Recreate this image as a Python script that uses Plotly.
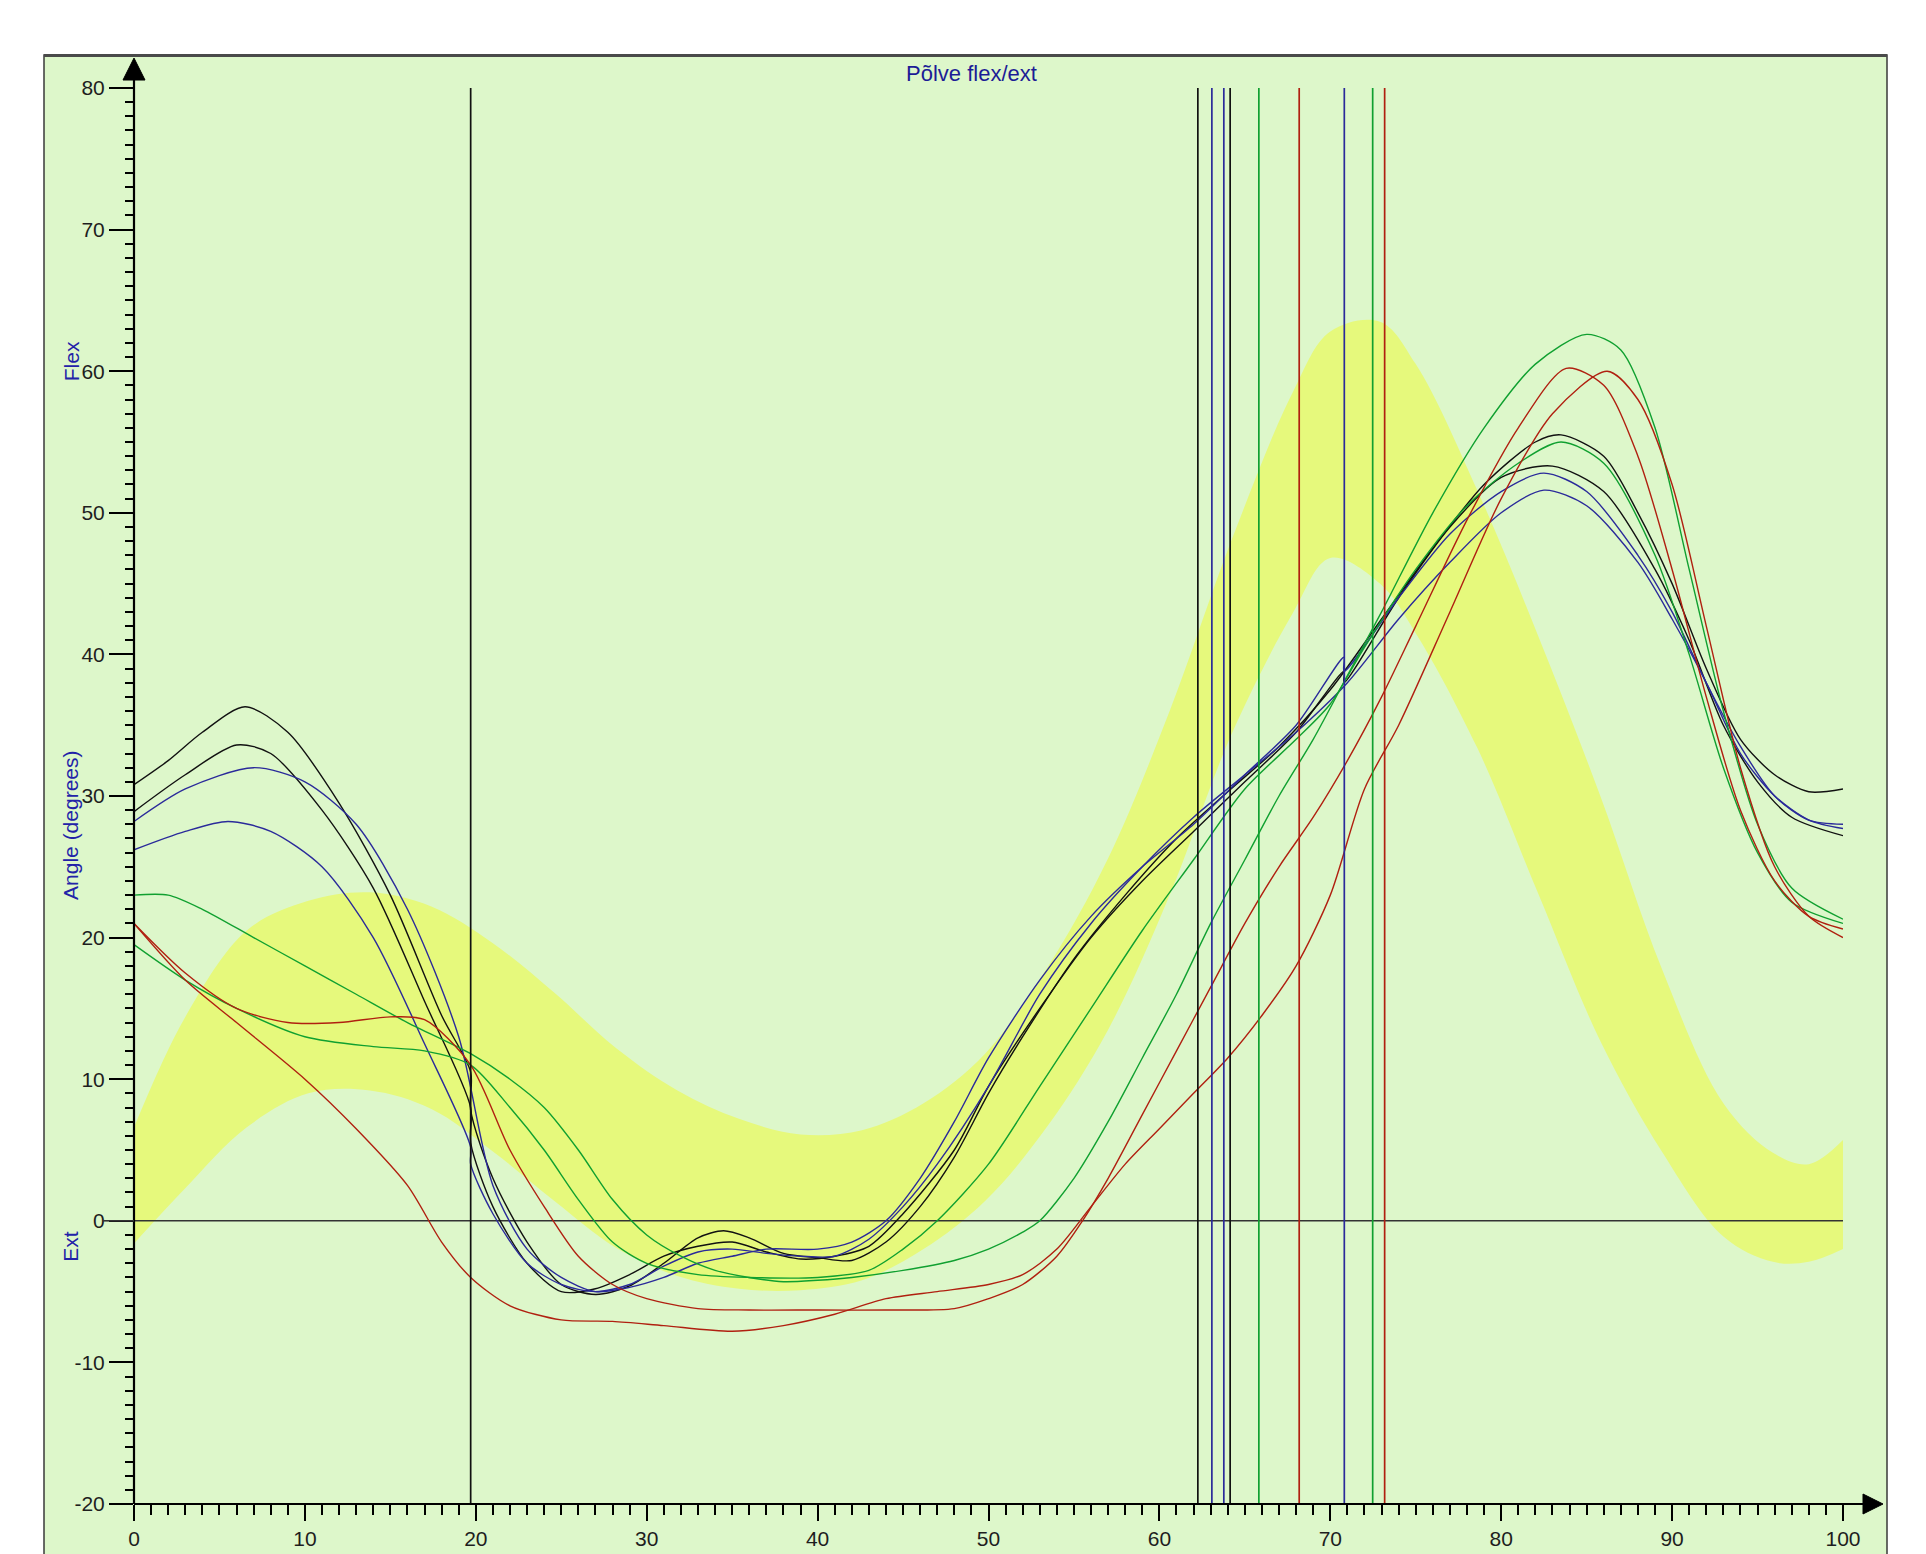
import plotly.graph_objects as go

# ---------------- data ----------------
band_x = [0, 3, 6.6, 10.2, 13.8, 17.4, 21, 24.6, 28.2, 31.8, 35.4, 39, 42.6, 46.2, 49.8,
          53.4, 57, 60.6, 64.2, 67.8, 70, 72.9, 75, 78.6, 82.2, 85.8, 89.4, 93, 95.9, 98, 100]
band_upper = [6.6, 14.4, 20.5, 22.6, 23.2, 22.2, 19.6, 16.1, 12.2, 9.2, 7.2, 6.1, 6.4, 8.3, 11.8,
              17.8, 25.6, 36, 48, 58.5, 62.8, 63.5, 60.5, 51.6, 41.2, 30, 17.8, 8.3, 4.8, 4, 5.7]
band_lower = [-1.6, 2.3, 6.6, 9, 9.2, 7.9, 4.9, 1.4, -1.9, -3.9, -4.8, -4.9, -4.2, -2, 1.4,
              6.6, 13.5, 23, 34.3, 42.9, 46.8, 45, 41.5, 33.4, 23, 12.7, 4.9, -1.1, -2.9, -2.9, -2]

k1_x = [0, 2, 4, 6.5, 9, 12, 15, 18, 19.7, 19.7, 21, 23, 25, 27, 29, 31, 33, 34.5, 36, 38, 40, 42, 44,
        46, 48, 50, 52, 55, 58, 61, 64, 67, 70, 73, 76, 79, 82, 83.5, 86, 88, 90, 92, 94, 96, 98, 100]
k1_y = [30.8, 32.5, 34.5, 36.3, 34.5, 29.5, 23, 14.5, 10.5, 7.8, 3, -1.5, -4.5, -5.2, -4.6, -3, -1.2,
        -0.7, -1.2, -2.3, -2.6, -2.8, -1.5, 1, 4.5, 9, 13, 18.5, 23, 27, 30.3, 33.5, 37.5, 42.5, 47.5,
        52, 55, 55.5, 54, 50, 45, 39, 34, 31.5, 30.3, 30.5]

k2_x = [0, 3, 6, 8, 11, 14, 17, 19.7, 19.7, 21, 23, 25, 27, 29, 31, 33, 35, 37, 39, 41, 43, 45, 48,
        50, 53, 56, 59, 62, 65, 68, 70.8, 70.8, 74, 77, 80, 83, 86, 89, 91, 93, 95, 97, 100]
k2_y = [28.9, 31.5, 33.6, 33, 29, 23.5, 15.5, 8, 5.5, 1, -3, -5, -4.8, -3.8, -2.5, -1.8, -1.5, -2.2,
        -2.7, -2.5, -1.8, 0.5, 5, 9.5, 15, 20, 24, 27.5, 31, 34.5, 38.8, 38, 44, 49, 52.5, 53.3, 51.5,
        46, 41, 35, 31, 28.5, 27.2]

b1_x = [0, 3, 7, 10, 13, 16, 19, 21, 23, 25, 27, 29, 31, 33, 35, 37, 40, 42, 44, 46, 48, 50, 53, 56,
        59, 62, 65, 68, 70.8, 70.8, 74, 77, 80, 82.5, 85, 88, 90, 92, 94, 96, 98, 100]
b1_y = [28.2, 30.5, 32, 31, 28, 22, 13, 2.5, -2, -4, -5, -4.7, -4, -3, -2.5, -2, -2, -1.5, 0, 3, 7,
        11.5, 17, 21.5, 25, 28, 31.5, 35, 39.8, 38.8, 44, 48.5, 51.5, 52.8, 51.5, 47, 43, 38, 33.5, 30,
        28.3, 28]

b2_x = [0, 3, 5.5, 8, 11, 14, 17, 19.7, 19.7, 21, 23, 25, 27, 29, 31, 33, 35, 37, 39, 41, 43, 45, 47,
        50, 53, 56, 59, 62, 65, 68, 71, 74, 77, 80, 82.5, 85, 88, 90, 92, 94, 96, 98, 100]
b2_y = [26.2, 27.5, 28.2, 27.5, 25, 20, 12.5, 5.2, 4, 0.5, -3, -4.5, -5, -4.5, -3.2, -2.2, -2, -2.3,
        -2.5, -2.5, -1.3, 1, 4, 9.5, 16, 21, 25, 28.5, 31.5, 34.5, 38, 42.5, 46.5, 50, 51.6, 50.5, 46.5,
        42.5, 38, 33, 30, 28.3, 27.7]

g1_x = [0, 2, 4, 7, 10, 13, 16, 19.7, 22, 24, 26, 28, 30, 32, 34, 36, 38, 40, 42, 45, 48, 50, 52, 53,
        55, 57, 59, 61, 63, 65, 67, 69, 71, 73, 76, 79, 82, 85, 87, 89, 91, 93, 95, 97, 100]
g1_y = [23, 23, 22, 20, 18, 16, 14, 11.8, 10, 8, 5, 1.5, -1, -2.5, -3.5, -4, -4.3, -4.2, -4, -3.5,
        -2.8, -2, -0.8, 0, 3, 7, 11.5, 16, 21, 25.5, 30, 34, 38.5, 43, 50, 56, 60.5, 62.6, 61.5, 56,
        46, 36, 28, 23.5, 21.3]

g2_x = [0, 3, 6, 10, 14, 17, 19.7, 22, 24, 26, 28, 30, 33, 36, 40, 43, 45, 47, 50, 53, 56, 59, 62,
        65, 68, 70, 72, 75, 78, 81, 83.5, 86, 89, 91, 93, 95, 97, 100]
g2_y = [19.5, 17, 15, 13, 12.3, 12, 11, 8, 5, 1.5, -1.5, -3, -3.8, -4, -4, -3.5, -2, 0, 4, 9.5, 15,
        20.5, 25.5, 30.5, 34, 36.5, 40.5, 46, 50.5, 53.5, 55, 53.5, 47, 40, 32, 26, 22.5, 21]

r1_x = [0, 3, 6, 9, 12, 15, 17, 19.7, 22, 24, 26, 28, 30, 33, 36, 40, 44, 48, 50, 52, 54, 55.5, 57,
        59, 61, 63, 65, 67, 69, 71, 73, 75, 78, 81, 83.8, 86, 88, 90, 92, 94, 96, 98, 100]
r1_y = [21, 17.5, 15, 14, 14, 14.4, 14.2, 11, 5, 1, -2.5, -4.5, -5.5, -6.2, -6.3, -6.3, -6.3, -6.2,
        -5.5, -4.5, -2.5, 0, 3, 7.5, 12, 16.5, 21, 25, 28.5, 32.5, 37, 42, 49.5, 56, 60.2, 59, 54,
        46, 37, 29, 24, 21.5, 20.6]

r2_x = [0, 3, 6, 10, 13, 16, 18, 19.7, 22, 25, 28, 31, 35, 38, 41, 44, 47, 50, 52, 54, 56, 58, 60,
        62, 64, 66, 68, 70, 72, 74, 77, 80, 83, 86.2, 88, 90, 92, 94, 96, 98, 100]
r2_y = [21, 17, 14, 10, 6.5, 2.5, -1.5, -4, -6, -7, -7.1, -7.4, -7.8, -7.4, -6.6, -5.5, -5, -4.5,
        -3.8, -2, 1, 4, 6.5, 9, 11.5, 14.5, 18, 23, 30.5, 35, 43, 51, 57, 60, 58, 52, 42, 32, 25,
        21.5, 20]

event_x = [19.7, 62.25, 63.07, 63.77, 64.14, 65.82, 68.18, 70.82, 72.48, 73.18]
event_color = ["#111111", "#111111", "#2a2a9a", "#2a2a9a", "#111111", "#10a030", "#b02010",
               "#2a2a9a", "#10a030", "#b02010"]

x_range = [0, 100]
y_range = [-20, 80]
x_tickvals = [0, 10, 20, 30, 40, 50, 60, 70, 80, 90, 100]
x_ticktext = ["0", "10", "20", "30", "40", "50", "60", "70", "80", "90", "100"]
y_tickvals = [-20, -10, 0, 10, 20, 30, 40, 50, 60, 70, 80]
y_ticktext = ["-20", "-10", "0", "10", "20", "30", "40", "50", "60", "70", "80"]
title_text = "Põlve flex/ext"
ylabel_flex = "Flex"
ylabel_mid = "Angle (degrees)"
ylabel_ext = "Ext"

# ---------------- geometry (page pixels; page body has an 8px margin) ----------------
OFF = 8
W, H = 1926, 1554
L, T = 134 - OFF, 88 - OFF
PW, PH = 1709, 1420
R, B = W - L - PW, H - T - PH


def px(xp):
    return (xp - OFF - L) / PW


def py(yp):
    return (H - B - (yp - OFF)) / PH


BG = "#ddf7ca"
BAND = "#e6f97c"
BLACK = "#111111"
BLUE = "#2a2a9a"
GREEN = "#10a030"
RED = "#b02010"

fig = go.Figure()

# normative band
fig.add_trace(go.Scatter(x=band_x, y=band_lower, mode="lines", line=dict(width=0, shape="spline"),
                         hoverinfo="skip", showlegend=False))
fig.add_trace(go.Scatter(x=band_x, y=band_upper, mode="lines", line=dict(width=0, shape="spline"),
                         fill="tonexty", fillcolor=BAND, hoverinfo="skip", showlegend=False))

# zero line
fig.add_trace(go.Scatter(x=x_range, y=[0, 0], mode="lines", line=dict(color="#333333", width=1.6),
                         hoverinfo="skip", showlegend=False))

curves = [
    (k1_x, k1_y, BLACK), (k2_x, k2_y, BLACK),
    (b1_x, b1_y, BLUE), (b2_x, b2_y, BLUE),
    (g1_x, g1_y, GREEN), (g2_x, g2_y, GREEN),
    (r1_x, r1_y, RED), (r2_x, r2_y, RED),
]
for cx, cy, col in curves:
    fig.add_trace(go.Scatter(x=cx, y=cy, mode="lines",
                             line=dict(color=col, width=1.4, shape="spline", smoothing=0.8),
                             showlegend=False))

# event lines
for ex, ec in zip(event_x, event_color):
    fig.add_trace(go.Scatter(x=[ex, ex], y=y_range, mode="lines",
                             line=dict(color=ec, width=1.7), hoverinfo="skip", showlegend=False))

y0p = (0 - y_range[0]) / (y_range[1] - y_range[0])
shapes = [
    # chart frame
    dict(type="rect", xref="paper", yref="paper", x0=px(44), x1=px(1887), y0=py(H + 20), y1=py(55),
         fillcolor=BG, line=dict(color="#3a3a3a", width=1.5), layer="below"),
    dict(type="line", xref="paper", yref="paper", x0=px(44), x1=px(1887), y0=py(55.5), y1=py(55.5),
         line=dict(color="#4a4a4a", width=3)),
    # axis lines
    dict(type="line", xref="paper", yref="paper", x0=0, x1=0, y0=0, y1=py(80),
         line=dict(color="black", width=2.2)),
    dict(type="line", xref="paper", yref="paper", x0=0, x1=px(1863), y0=0, y1=0,
         line=dict(color="black", width=2.2)),
    # arrows
    dict(type="path", xref="paper", yref="paper",
         path=f"M {px(123)},{py(80)} L {px(134)},{py(58)} L {px(145)},{py(80)} Z",
         fillcolor="black", line=dict(color="black", width=1)),
    dict(type="path", xref="paper", yref="paper",
         path=f"M {px(1863)},{py(1498)} L {px(1883)},{py(1508)} L {px(1863)},{py(1518)} Z",
         fillcolor="black", line=dict(color="black", width=1)),
    # zero-line stub left of axis
    dict(type="line", xref="paper", yref="paper", x0=px(103), x1=0, y0=y0p, y1=y0p,
         line=dict(color="#333333", width=1.6)),
]

ann_font = dict(family="Liberation Sans, Arial, sans-serif", size=21, color="#2222a8")
annotations = [
    dict(text=title_text, xref="paper", yref="paper", x=px(971), y=py(73), showarrow=False,
         xanchor="center", yanchor="middle", font=dict(family="Liberation Sans, Arial, sans-serif",
                                                       size=22, color="#1c1c96")),
    dict(text=ylabel_flex, xref="paper", yref="paper", x=px(71), y=py(362), showarrow=False,
         textangle=-90, xanchor="center", yanchor="middle", font=ann_font),
    dict(text=ylabel_mid, xref="paper", yref="paper", x=px(71), y=py(828), showarrow=False,
         textangle=-90, xanchor="center", yanchor="middle", font=ann_font),
    dict(text=ylabel_ext, xref="paper", yref="paper", x=px(71), y=py(1250), showarrow=False,
         textangle=-90, xanchor="center", yanchor="middle", font=ann_font),
]

tick_font = dict(family="Liberation Sans, Arial, sans-serif", size=21, color="#1e1e1e")

fig.update_layout(
    width=W, height=H,
    margin=dict(l=L, r=R, t=T, b=B, pad=0),
    paper_bgcolor="white",
    plot_bgcolor="rgba(0,0,0,0)",
    showlegend=False,
    shapes=shapes,
    annotations=annotations,
    xaxis=dict(range=x_range, showgrid=False, zeroline=False, showline=False,
               ticks="outside", ticklen=16, tickwidth=2, tickcolor="black",
               tickmode="array", tickvals=x_tickvals, ticktext=x_ticktext, tickfont=tick_font,
               minor=dict(ticks="outside", ticklen=10, tickwidth=2, tickcolor="black",
                          tick0=0, dtick=1, showgrid=False)),
    yaxis=dict(range=y_range, showgrid=False, zeroline=False, showline=False,
               ticks="outside", ticklen=24, tickwidth=2, tickcolor="black",
               tickmode="array", tickvals=y_tickvals, ticktext=y_ticktext, tickfont=tick_font,
               minor=dict(ticks="outside", ticklen=8, tickwidth=2, tickcolor="black",
                          tick0=0, dtick=1, showgrid=False)),
)

fig.write_html("out.html")
